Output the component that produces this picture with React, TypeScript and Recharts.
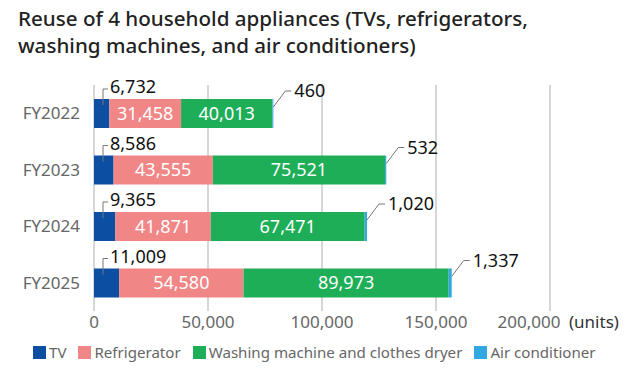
import { BarChart, Bar, XAxis, YAxis, CartesianGrid, LabelList } from 'recharts';

// Reuse counts (units) per fiscal year
const years = ['FY2022', 'FY2023', 'FY2024', 'FY2025'];
const tvUnits = [6732, 8586, 9365, 11009];
const fridgeUnits = [31458, 43555, 41871, 54580];
const washerUnits = [40013, 75521, 67471, 89973];
const aircon = [460, 532, 1020, 1337];
const xTicks = [0, 50000, 100000, 150000, 200000];
const UNIT = '(units)';

const SERIES = [
  { key: 'tv', name: 'TV', color: '#0b4ea2' },
  { key: 'fridge', name: 'Refrigerator', color: '#f08686' },
  { key: 'washer', name: 'Washing machine and clothes dryer', color: '#1eae57' },
  { key: 'aircon', name: 'Air conditioner', color: '#31a8e0' },
];

const FONT = '"Noto Sans", sans-serif';
const fmt = (v: any) => Number(v).toLocaleString('en-US');

const chartData = years.map((year, i) => ({
  year,
  tv: tvUnits[i],
  fridge: fridgeUnits[i],
  washer: washerUnits[i],
  aircon: aircon[i],
}));

// x tick; the last one is pushed left to make room for the unit
const XTick = (props: any) => {
  const { x, y, payload } = props;
  const last = payload.value === xTicks[xTicks.length - 1];
  return (
    <g>
      <text x={last ? x - 21 : x} y={y} dy="0.71em" textAnchor="middle" fontSize={17} fill="#666">
        {fmt(payload.value)}
      </text>
      {last && (
        <text x={x + 19} y={y} dy="0.71em" fontSize={17} fill="#333">
          {UNIT}
        </text>
      )}
    </g>
  );
};

// leader label above the TV segment
const TvLabel = (props: any) => {
  const { x, y, value } = props;
  const lx = x + 9;
  return (
    <g>
      <polyline
        points={`${lx},${y + 6} ${lx},${y - 10} ${lx + 5},${y - 10}`}
        fill="none"
        stroke="#777"
        strokeWidth={1}
      />
      <text x={x + 16} y={y - 6} fontSize={18} fill="#111">
        {fmt(value)}
      </text>
    </g>
  );
};

// diagonal leader label to the right of the air conditioner segment
const AirconLabel = (props: any) => {
  const { x, y, width, value } = props;
  const end = x + width;
  return (
    <g>
      <polyline
        points={`${end},${y + 8} ${end + 12},${y - 8} ${end + 18},${y - 8}`}
        fill="none"
        stroke="#777"
        strokeWidth={1}
      />
      <text x={end + 21} y={y - 2} fontSize={18} fill="#111">
        {fmt(value)}
      </text>
    </g>
  );
};

export default function App() {
  return (
    <div
      style={{
        position: 'fixed',
        left: 0,
        top: 0,
        width: 640,
        height: 374,
        background: '#fff',
        fontFamily: FONT,
        overflow: 'hidden',
      }}
    >
      {/* Title */}
      <div
        style={{
          position: 'absolute',
          left: 18,
          top: 5,
          fontSize: 20.6,
          lineHeight: '27px',
          fontWeight: 500,
          color: '#222',
          whiteSpace: 'nowrap',
        }}
      >
        <div>Reuse of 4 household appliances (TVs, refrigerators,</div>
        <div>washing machines, and air conditioners)</div>
      </div>

      {/* Chart */}
      <div style={{ position: 'absolute', left: 0, top: 0 }}>
        <BarChart
          width={640}
          height={374}
          data={chartData}
          layout="vertical"
          margin={{ top: 85, right: 90, bottom: 33, left: 0 }}
          barSize={29}
          style={{ fontFamily: FONT }}
        >
          <CartesianGrid horizontal={false} stroke="#d6d6d6" strokeWidth={2} />
          <XAxis
            type="number"
            domain={[0, 200000]}
            ticks={xTicks}
            axisLine={false}
            tickLine={false}
            tickSize={0}
            tickMargin={5}
            height={30}
            interval={0}
            tick={<XTick />}
          />
          <YAxis
            type="category"
            dataKey="year"
            width={94}
            axisLine={false}
            tickLine={false}
            tickSize={0}
            tickMargin={14}
            tick={{ fill: '#666', fontSize: 17 }}
          />
          <Bar dataKey="tv" stackId="a" fill={SERIES[0].color} isAnimationActive={false}>
            <LabelList dataKey="tv" content={TvLabel} />
          </Bar>
          <Bar dataKey="fridge" stackId="a" fill={SERIES[1].color} isAnimationActive={false}>
            <LabelList dataKey="fridge" position="center" fill="#fff" fontSize={18} formatter={fmt} />
          </Bar>
          <Bar dataKey="washer" stackId="a" fill={SERIES[2].color} isAnimationActive={false}>
            <LabelList dataKey="washer" position="center" fill="#fff" fontSize={18} formatter={fmt} />
          </Bar>
          <Bar dataKey="aircon" stackId="a" fill={SERIES[3].color} isAnimationActive={false}>
            <LabelList dataKey="aircon" content={AirconLabel} />
          </Bar>
        </BarChart>
      </div>

      {/* Legend */}
      <div
        style={{
          position: 'absolute',
          left: 33,
          top: 340,
          display: 'flex',
          alignItems: 'center',
          fontSize: 15.1,
          lineHeight: '24px',
          color: '#666',
          whiteSpace: 'nowrap',
        }}
      >
        {SERIES.map((s) => (
          <div key={s.key} style={{ display: 'flex', alignItems: 'center', marginRight: 12 }}>
            <span style={{ width: 13, height: 13, background: s.color, marginRight: 3 }} />
            <span>{s.name}</span>
          </div>
        ))}
      </div>
    </div>
  );
}
